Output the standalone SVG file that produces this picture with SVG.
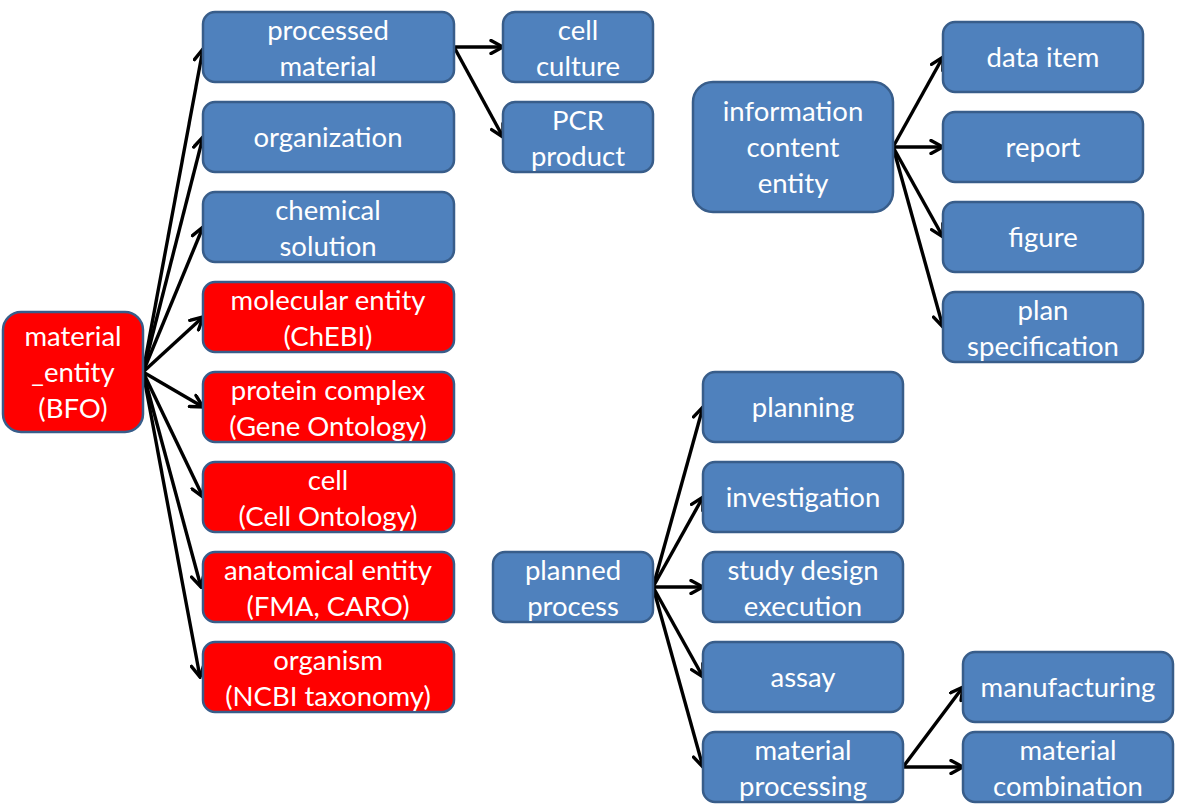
<svg xmlns="http://www.w3.org/2000/svg" width="1177" height="806" viewBox="0 0 1177 806">
<style>
.b rect{fill:#4F81BD;stroke:#385D8A;stroke-width:2.5}
.r rect{fill:#FF0000;stroke:#385D8A;stroke-width:2.5}
text{font-family:Lato,"Open Sans",sans-serif;font-size:27.5px;fill:#fff;text-anchor:middle}
#connectors path{fill:none;stroke:#000;stroke-width:3.4;marker-end:url(#ah)}
</style>
<defs>
<marker id="ah" markerUnits="userSpaceOnUse" viewBox="0 0 16 16" markerWidth="16" markerHeight="16" refX="14" refY="8" orient="auto">
<path d="M2,1.5 L14,8 L2,14.5" fill="none" stroke="#000" stroke-width="3.4" stroke-linecap="round" stroke-linejoin="miter"/>
</marker>
</defs>
<rect width="1177" height="806" fill="#fff"/>

<g id="connectors">
<path d="M143,372 L203,49"/>
<path d="M143,372 L203,137"/>
<path d="M143,372 L203,227"/>
<path d="M143,372 L203,317"/>
<path d="M143,372 L203,407"/>
<path d="M143,372 L203,497"/>
<path d="M143,372 L201,587"/>
<path d="M143,372 L200,677"/>
<path d="M454,47 L503,47"/>
<path d="M454,47 L503,137"/>
<path d="M893,147 L943,57"/>
<path d="M893,147 L943,147"/>
<path d="M893,147 L943,237"/>
<path d="M893,147 L943,327"/>
<path d="M653,587 L703,407"/>
<path d="M653,587 L703,497"/>
<path d="M653,587 L703,587"/>
<path d="M653,587 L703,677"/>
<path d="M653,587 L703,767"/>
<path d="M903,767 L963,687"/>
<path d="M903,767 L963,767"/>
</g>

<g id="material_entity" class="r"><rect x="3" y="312" width="140" height="120" rx="18"/>
<text x="73" y="346">material</text><text x="73" y="382">_entity</text><text x="73" y="418">(BFO)</text></g>

<g id="processed_material" class="b"><rect x="203" y="12" width="251" height="70" rx="12"/>
<text x="328" y="40">processed</text><text x="328" y="76">material</text></g>
<g id="organization" class="b"><rect x="203" y="102" width="251" height="70" rx="12"/>
<text x="328" y="147">organization</text></g>
<g id="chemical_solution" class="b"><rect x="203" y="192" width="251" height="70" rx="12"/>
<text x="328" y="220">chemical</text><text x="328" y="256">solution</text></g>
<g id="molecular_entity" class="r"><rect x="203" y="282" width="251" height="70" rx="12"/>
<text x="328" y="310">molecular entity</text><text x="328" y="346">(ChEBI)</text></g>
<g id="protein_complex" class="r"><rect x="203" y="372" width="251" height="70" rx="12"/>
<text x="328" y="400">protein complex</text><text x="328" y="436">(Gene Ontology)</text></g>
<g id="cell" class="r"><rect x="203" y="462" width="251" height="70" rx="12"/>
<text x="328" y="490">cell</text><text x="328" y="526">(Cell Ontology)</text></g>
<g id="anatomical_entity" class="r"><rect x="203" y="552" width="251" height="70" rx="12"/>
<text x="328" y="580">anatomical entity</text><text x="328" y="616">(FMA, CARO)</text></g>
<g id="organism" class="r"><rect x="203" y="642" width="251" height="70" rx="12"/>
<text x="328" y="670">organism</text><text x="328" y="706">(NCBI taxonomy)</text></g>

<g id="cell_culture" class="b"><rect x="503" y="12" width="150" height="70" rx="12"/>
<text x="578" y="40">cell</text><text x="578" y="76">culture</text></g>
<g id="pcr_product" class="b"><rect x="503" y="102" width="150" height="70" rx="12"/>
<text x="578" y="130">PCR</text><text x="578" y="166">product</text></g>

<g id="information_content_entity" class="b"><rect x="693" y="82" width="200" height="130" rx="20"/>
<text x="793" y="121">information</text><text x="793" y="157">content</text><text x="793" y="193">entity</text></g>
<g id="data_item" class="b"><rect x="943" y="22" width="200" height="70" rx="12"/>
<text x="1043" y="67">data item</text></g>
<g id="report" class="b"><rect x="943" y="112" width="200" height="70" rx="12"/>
<text x="1043" y="157">report</text></g>
<g id="figure" class="b"><rect x="943" y="202" width="200" height="70" rx="12"/>
<text x="1043" y="247">figure</text></g>
<g id="plan_specification" class="b"><rect x="943" y="292" width="200" height="70" rx="12"/>
<text x="1043" y="320">plan</text><text x="1043" y="356">specification</text></g>

<g id="planned_process" class="b"><rect x="493" y="552" width="160" height="70" rx="12"/>
<text x="573" y="580">planned</text><text x="573" y="616">process</text></g>
<g id="planning" class="b"><rect x="703" y="372" width="200" height="70" rx="12"/>
<text x="803" y="417">planning</text></g>
<g id="investigation" class="b"><rect x="703" y="462" width="200" height="70" rx="12"/>
<text x="803" y="507">investigation</text></g>
<g id="study_design_execution" class="b"><rect x="703" y="552" width="200" height="70" rx="12"/>
<text x="803" y="580">study design</text><text x="803" y="616">execution</text></g>
<g id="assay" class="b"><rect x="703" y="642" width="200" height="70" rx="12"/>
<text x="803" y="687">assay</text></g>
<g id="material_processing" class="b"><rect x="703" y="732" width="200" height="70" rx="12"/>
<text x="803" y="760">material</text><text x="803" y="796">processing</text></g>
<g id="manufacturing" class="b"><rect x="963" y="652" width="210" height="70" rx="12"/>
<text x="1068" y="697">manufacturing</text></g>
<g id="material_combination" class="b"><rect x="963" y="732" width="210" height="70" rx="12"/>
<text x="1068" y="760">material</text><text x="1068" y="796">combination</text></g>
</svg>
